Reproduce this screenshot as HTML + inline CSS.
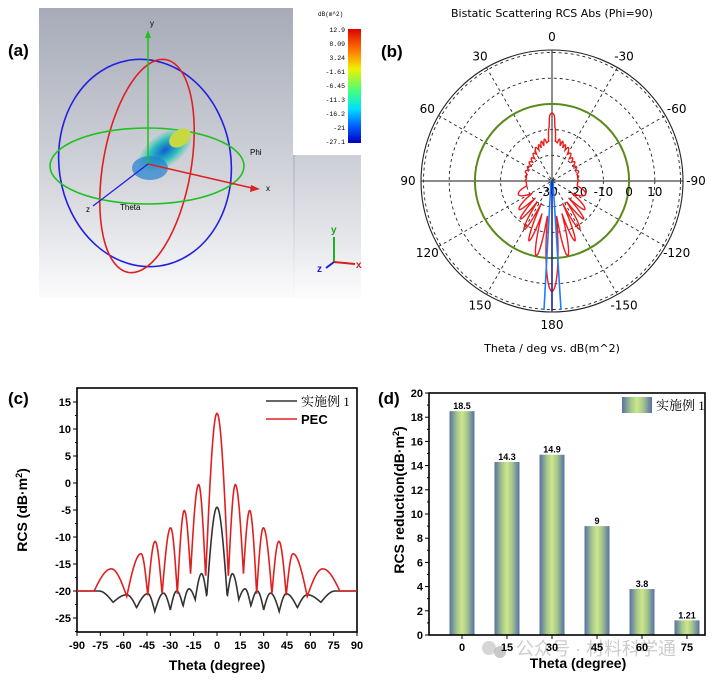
<!DOCTYPE html>
<html><head><meta charset="utf-8"><style>
body{margin:0;background:#fff;}
svg{display:block;font-family:"Liberation Sans","Noto Sans CJK SC",sans-serif;}
</style></head><body>
<svg id="fig" width="722" height="680" viewBox="0 0 722 680">
<defs>
<linearGradient id="bgA" x1="0" y1="0" x2="0" y2="1"><stop offset="0" stop-color="#a7abb8"/><stop offset="0.6" stop-color="#d4d6dc"/><stop offset="1" stop-color="#fbfbfc"/></linearGradient>
<linearGradient id="cbar" x1="0" y1="0" x2="0" y2="1"><stop offset="0" stop-color="#e00000"/><stop offset="0.2" stop-color="#ff8000"/><stop offset="0.35" stop-color="#f0f000"/><stop offset="0.55" stop-color="#40ff80"/><stop offset="0.7" stop-color="#00e0ff"/><stop offset="0.85" stop-color="#0060ff"/><stop offset="1" stop-color="#0000c0"/></linearGradient>
<linearGradient id="barG" x1="0" y1="0" x2="1" y2="0"><stop offset="0" stop-color="#5670a8"/><stop offset="0.3" stop-color="#a6c88a"/><stop offset="0.5" stop-color="#cce68c"/><stop offset="0.7" stop-color="#a6c88a"/><stop offset="1" stop-color="#5670a8"/></linearGradient>
<radialGradient id="lobe" cx="0.5" cy="0.5" r="0.5"><stop offset="0" stop-color="#1060d0"/><stop offset="0.6" stop-color="#30c0c0"/><stop offset="1" stop-color="#60d0b0" stop-opacity="0.2"/></radialGradient>
</defs>

<!-- Panel (a) -->
<g>
<rect x="39" y="8" width="256" height="290" fill="url(#bgA)"/>
<rect x="293" y="150" width="68" height="148" fill="url(#bgA)" opacity="0.6"/>
<rect x="293" y="8" width="68" height="147" fill="#fff"/>
<ellipse cx="145" cy="163" rx="86" ry="104" fill="none" stroke="#2020e0" stroke-width="1.6" transform="rotate(-8 145 163)"/>
<ellipse cx="147" cy="166" rx="44" ry="108" fill="none" stroke="#e02020" stroke-width="1.6" transform="rotate(10 147 166)"/>
<ellipse cx="147" cy="166" rx="97" ry="38" fill="none" stroke="#20c020" stroke-width="1.6"/>
<ellipse cx="165" cy="150" rx="30" ry="16" fill="url(#lobe)" transform="rotate(-35 165 150)"/>
<ellipse cx="180" cy="138" rx="12" ry="8" fill="#c8d840" transform="rotate(-35 180 138)"/>
<ellipse cx="150" cy="168" rx="18" ry="12" fill="#2080d0" opacity="0.7"/>
<line x1="148" y1="164" x2="148" y2="36" stroke="#20c020" stroke-width="1.5"/>
<polygon points="148,30 145,38 151,38" fill="#20c020"/>
<text x="150" y="26" font-size="8">y</text>
<line x1="148" y1="164" x2="252" y2="188" stroke="#e02020" stroke-width="1.5"/>
<polygon points="260,189 251,185 250,192" fill="#e02020"/>
<text x="266" y="191" font-size="8">x</text>
<line x1="148" y1="164" x2="93" y2="206" stroke="#2020e0" stroke-width="1.3"/>
<text x="86" y="212" font-size="8">z</text>
<text x="120" y="210" font-size="8">Theta</text>
<text x="250" y="155" font-size="8">Phi</text>
<text x="318" y="16" font-size="6" font-family="Liberation Mono,monospace">dB(m^2)</text>
<rect x="348" y="29" width="13" height="114" fill="url(#cbar)"/>
<g font-size="6.5" font-family="Liberation Mono,monospace" text-anchor="end">
<text x="345" y="32">12.9</text><text x="345" y="46">8.09</text><text x="345" y="60">3.24</text><text x="345" y="74">-1.61</text><text x="345" y="88">-6.45</text><text x="345" y="102">-11.3</text><text x="345" y="116">-16.2</text><text x="345" y="130">-21</text><text x="345" y="144">-27.1</text>
</g>
<g>
<line x1="334" y1="262" x2="334" y2="237" stroke="#20b020" stroke-width="2"/>
<line x1="334" y1="262" x2="355" y2="264" stroke="#d02020" stroke-width="2"/>
<line x1="334" y1="262" x2="326" y2="268" stroke="#2020d0" stroke-width="2"/>
<text x="331" y="233" font-size="10" fill="#20a020" font-weight="bold">y</text>
<text x="356" y="268" font-size="10" fill="#d02020" font-weight="bold">x</text>
<text x="317" y="272" font-size="10" fill="#2020d0" font-weight="bold">z</text>
</g>
<text x="8" y="56" font-size="17" font-weight="bold">(a)</text>
</g>

<!-- Panel (b) -->
<g id="polar">
<text x="552" y="17" font-size="11" text-anchor="middle" font-family="DejaVu Sans,sans-serif">Bistatic Scattering RCS Abs (Phi=90)</text>
<text x="381" y="57" font-size="17" font-weight="bold">(b)</text>
<text x="552" y="352" font-size="11" text-anchor="middle" font-family="DejaVu Sans,sans-serif">Theta / deg vs. dB(m^2)</text>
</g>

<!-- Panel (c) -->
<g id="lineChart">
<text x="8" y="404" font-size="17" font-weight="bold">(c)</text>
<text transform="translate(27 510) rotate(-90)" font-size="14" font-weight="bold" text-anchor="middle">RCS (dB·m<tspan font-size="9" dy="-5">2</tspan><tspan dy="5">)</tspan></text>
<text x="217" y="670" font-size="14" font-weight="bold" text-anchor="middle">Theta (degree)</text>
</g>

<!-- Panel (d) -->
<g id="barChart">
<text x="378" y="404" font-size="17" font-weight="bold">(d)</text>
<text transform="translate(404 500) rotate(-90)" font-size="14" font-weight="bold" text-anchor="middle">RCS reduction(dB·m<tspan font-size="9" dy="-5">2</tspan><tspan dy="5">)</tspan></text>
<text x="578" y="668" font-size="14" font-weight="bold" text-anchor="middle">Theta (degree)</text>
<text x="516" y="655" font-size="18" fill="#bbb" opacity="0.75">公众号 · 材料科学通</text>
<circle cx="489" cy="648" r="7" fill="#ccc" opacity="0.8"/>
<circle cx="500" cy="652" r="6" fill="#bbb" opacity="0.8"/>
</g>
</svg>
<script>
const NS="http://www.w3.org/2000/svg";
// ---- panel (c) data ----
const pecAngles=[-90,-79,-68,-58,-48.8,-44.5,-39.8,-35.3,-29.8,-25.5,-21,-17,-11.8,-7.3,0,7.3,11.8,17,21,25.5,29.8,35.3,39.8,44.5,48.8,58,68,79,90];
const pecValues=[-20,-20,-15.9,-21,-13.1,-20.8,-10.8,-20.6,-8.3,-20.5,-5.1,-16.8,-0.3,-17.5,12.9,-17.5,-0.3,-16.8,-5.1,-20.5,-8.3,-20.6,-10.8,-20.8,-13.1,-21,-15.9,-20,-20];
const exAngles=[-90,-76,-66.8,-58,-51.7,-44.5,-40,-34.4,-30,-25.9,-21.8,-18,-14,-9.9,-6.6,0,6.6,9.9,14,18,21.8,25.9,30,34.4,40,44.5,51.7,58,66.8,76,90];
const exValues=[-20,-20,-22.1,-20.7,-23.1,-20.5,-23.8,-20.4,-23.5,-20,-22.8,-19.6,-21.6,-16.8,-21.1,-4.5,-21.1,-16.8,-21.6,-19.6,-22.8,-20,-23.5,-20.4,-23.8,-20.5,-23.1,-20.7,-22.1,-20,-20];
const cXTicks=[-90,-75,-60,-45,-30,-15,0,15,30,45,60,75,90];
const cYTicks=[-25,-20,-15,-10,-5,0,5,10,15];
// ---- panel (d) data ----
const barCats=["0","15","30","45","60","75"];
const barVals=[18.5,14.3,14.9,9,3.8,1.21];
const barLabels=["18.5","14.3","14.9","9","3.8","1.21"];
const dYTicks=[0,2,4,6,8,10,12,14,16,18,20];
// ---- panel (b) data: top half (theta 0..90), dB ----
const polarTopAngles=[0,2,3,5,8,10,13,15,18,20,23,26,30,34,38,42,46,50,55,60,65,70,75,80,85,90];
const polarTopValues=[-3.5,-4.5,-9,-14.5,-15,-13.5,-16,-14,-16.5,-15,-17,-15.5,-18,-17,-19,-18,-19.5,-18.5,-20,-19,-20,-19,-20,-19.5,-20,-19.5];
const polarRings=[-20,-10,0,10,20];
const polarAngleLabels=[0,30,60,90,120,150,180,-150,-120,-90,-60,-30];

function mk(tag,attrs,parent){const e=document.createElementNS(NS,tag);for(const k in attrs)e.setAttribute(k,attrs[k]);parent.appendChild(e);return e;}
// rounded at maxima, sharp at minima
function interp(xs,ys,x){for(let i=0;i<xs.length-1;i++){if(x>=xs[i]&&x<=xs[i+1]){const t=(x-xs[i])/(xs[i+1]-xs[i]);const a=ys[i],b=ys[i+1];
 if(Math.abs(a-b)<0.6)return a+(b-a)*(1-Math.cos(Math.PI*t))/2;
 if(b>a)return a+(b-a)*Math.sin(Math.PI/2*t);
 return b+(a-b)*Math.sin(Math.PI/2*(1-t));}}return ys[ys.length-1];}

// ===== panel (c)
const gc=document.getElementById('lineChart');
const cx=v=>77+(v+90)/180*280, cy=v=>402+(15-v)*5.4;
let r=mk('rect',{x:77,y:388,width:280,height:244,fill:'none',stroke:'#000','stroke-width':1.6},gc);


cXTicks.forEach(v=>{mk('line',{x1:cx(v),x2:cx(v),y1:632,y2:636,stroke:'#000'},gc);
 const t=mk('text',{x:cx(v),y:649,'font-size':11,'font-weight':'bold','text-anchor':'middle'},gc);t.textContent=v;
 
 });
cYTicks.forEach(v=>{mk('line',{x1:73,x2:77,y1:cy(v),y2:cy(v),stroke:'#000'},gc);
 mk('line',{x1:75,x2:77,y1:cy(v-2.5),y2:cy(v-2.5),stroke:'#000'},gc);
 const t=mk('text',{x:71,y:cy(v)+4,'font-size':11,'font-weight':'bold','text-anchor':'end'},gc);t.textContent=v;
 
 });
function series(xs,ys,color,name){let d='';for(let a=-90;a<=90.001;a+=0.25){d+=(d?'L':'M')+cx(a).toFixed(2)+','+cy(interp(xs,ys,a)).toFixed(2);}
 const p=mk('path',{d:d,fill:'none',stroke:color,'stroke-width':1.6},gc);
 
 }
series(exAngles,exValues,'#333','line-example1');
series(pecAngles,pecValues,'#e02020','line-pec');
mk('line',{x1:266,x2:297,y1:401,y2:401,stroke:'#333','stroke-width':1.6},gc);
let lt=mk('text',{x:301,y:406,'font-size':13,'font-family':'Liberation Serif,"Noto Serif CJK SC",serif'},gc);lt.textContent='实施例 1';


mk('line',{x1:266,x2:297,y1:419,y2:419,stroke:'#e02020','stroke-width':1.6},gc);
lt=mk('text',{x:301,y:424,'font-size':13,'font-weight':'bold'},gc);lt.textContent='PEC';



// ===== panel (d)
const gd=document.getElementById('barChart');
const dy=v=>635-v*12.1, dx=i=>462+i*45;
dYTicks.forEach(v=>{mk('line',{x1:425,x2:429,y1:dy(v),y2:dy(v),stroke:'#000'},gd);
 if(v<20)mk('line',{x1:427,x2:429,y1:dy(v+1),y2:dy(v+1),stroke:'#000'},gd);
 const t=mk('text',{x:423,y:dy(v)+4,'font-size':11,'font-weight':'bold','text-anchor':'end'},gd);t.textContent=v;
 
 });
barVals.forEach((v,i)=>{const b=mk('rect',{x:dx(i)-12.5,y:dy(v),width:25,height:dy(0)-dy(v),fill:'url(#barG)'},gd);
 
 
 const t=mk('text',{x:dx(i),y:dy(v)-2,'font-size':9,'font-weight':'bold','text-anchor':'middle'},gd);t.textContent=barLabels[i];
 
 
 const c=mk('text',{x:dx(i),y:651,'font-size':11,'font-weight':'bold','text-anchor':'middle'},gd);c.textContent=barCats[i];
 
 
 mk('line',{x1:dx(i),x2:dx(i),y1:635,y2:639,stroke:'#000'},gd);});
r=mk('rect',{x:429,y:393,width:276,height:242,fill:'none',stroke:'#000','stroke-width':1.6},gd);


r=mk('rect',{x:622,y:397,width:30,height:16,fill:'url(#barG)'},gd);


lt=mk('text',{x:656,y:410,'font-size':13,'font-family':'Liberation Serif,"Noto Serif CJK SC",serif'},gd);lt.textContent='实施例 1';



// ===== panel (b)
const gp=document.getElementById('polar');
const PX=552,PY=181,RO=131;
const pr=db=>Math.max(0,(db+30)*2.57);
const pt=(th,rad)=>[PX-rad*Math.sin(th*Math.PI/180),PY-rad*Math.cos(th*Math.PI/180)];
polarRings.forEach(v=>{if(v===0)return;const c=mk('circle',{cx:PX,cy:PY,r:pr(v),fill:'none',stroke:'#222','stroke-width':0.9,'stroke-dasharray':'3,3'},gp);
 
 });
[30,60,120,150].forEach(a=>{const p1=pt(a,RO),p2=pt(a+180,RO);mk('line',{x1:p1[0],y1:p1[1],x2:p2[0],y2:p2[1],stroke:'#222','stroke-width':0.9,'stroke-dasharray':'3,3'},gp);});
mk('line',{x1:PX-RO,y1:PY,x2:PX+RO,y2:PY,stroke:'#444','stroke-width':1.2},gp);
mk('line',{x1:PX,y1:PY-RO,x2:PX,y2:PY+RO,stroke:'#444','stroke-width':1.2},gp);
let oc=mk('circle',{cx:PX,cy:PY,r:RO,fill:'none',stroke:'#222','stroke-width':1.1},gp);


oc=mk('circle',{cx:PX,cy:PY,r:pr(0),fill:'none',stroke:'#5a8a1a','stroke-width':2},gp);


polarAngleLabels.forEach(a=>{const p=pt(a,RO+13);const t=mk('text',{x:p[0],y:p[1]+4,'font-size':12,'text-anchor':'middle','font-family':'DejaVu Sans,sans-serif'},gp);t.textContent=a;
 
 });
[-30,-20,-10,0,10].forEach(v=>{const t=mk('text',{x:PX+pr(v)+(v===-30?-4:0),y:PY+15,'font-size':12,'text-anchor':'middle','font-family':'DejaVu Sans,sans-serif'},gp);t.textContent=v;
 
 });
function polarVal(th){th=((th%360)+360)%360;let a=th>180?360-th:th;
 if(a<=90)return interp(polarTopAngles,polarTopValues,a);
 return interp(pecAngles,pecValues,-(180-a));}
let d='';for(let th=0;th<=360.001;th+=0.5){const p=pt(th,pr(polarVal(th)));d+=(d?'L':'M')+p[0].toFixed(2)+','+p[1].toFixed(2);}
let rc=mk('path',{d:d+'Z',fill:'none',stroke:'#ee1c1c','stroke-width':1.4},gp);


let bl=mk('path',{d:`M${PX-1},${PY} L${PX-8},${PY+129} M${PX+1},${PY} L${PX+9},${PY+129}`,fill:'none',stroke:'#1e7cff','stroke-width':1.6},gp);


mk('line',{x1:PX,y1:PY,x2:PX,y2:PY+130,stroke:'#0a1aa0','stroke-width':1.4},gp);
</script>
</body></html>
